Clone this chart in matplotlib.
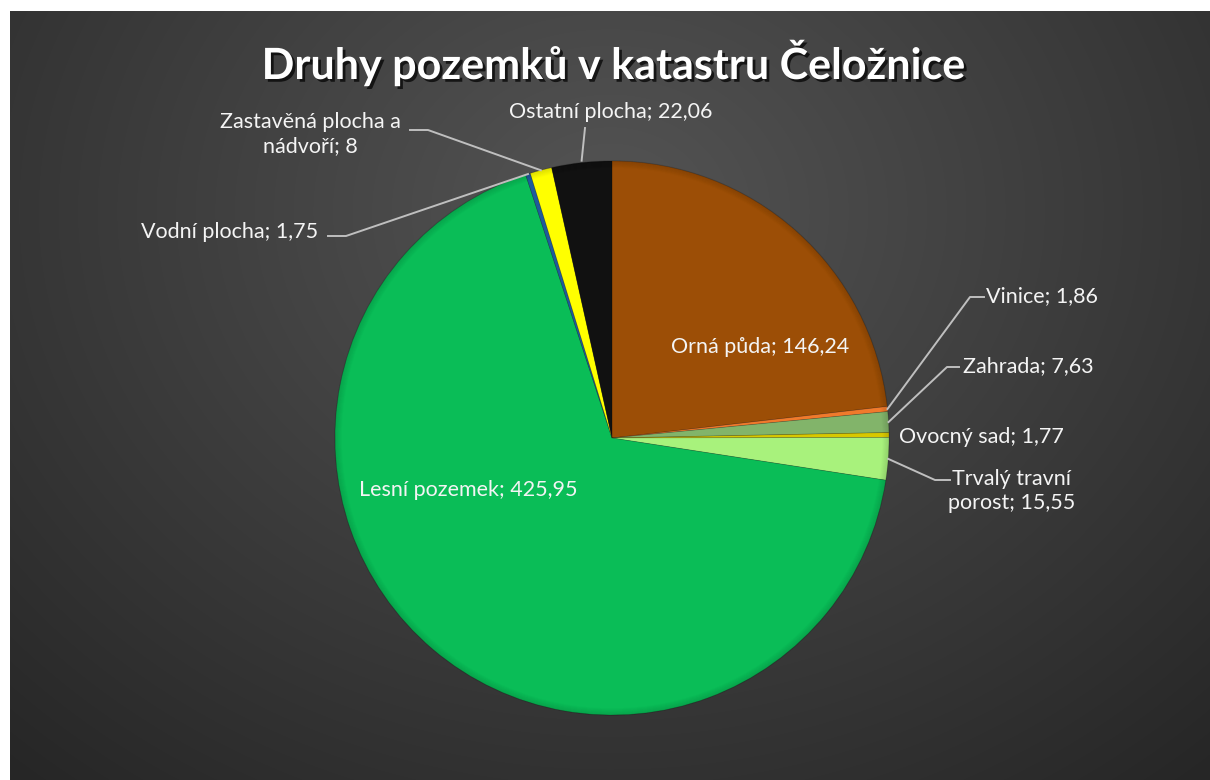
import numpy as np
import matplotlib.pyplot as plt
import matplotlib.patheffects as pe

# Data
kategorie = ['Orná půda', 'Vinice', 'Zahrada', 'Ovocný sad', 'Trvalý travní\nporost',
             'Lesní pozemek', 'Vodní plocha', 'Zastavěná plocha a\nnádvoří', 'Ostatní plocha']
hodnoty = [146.24, 1.86, 7.63, 1.77, 15.55, 425.95, 1.75, 8, 22.06]
barvy = ['#9C4E06', '#F07A2C', '#82B46A', '#D8C800', '#A8F27C',
         '#0ABD57', '#1F5A9C', '#FFFF00', '#111111']


def fmt(v):
    s = ('%.2f' % v).rstrip('0').rstrip('.')
    return s.replace('.', ',')


plt.rcParams['font.family'] = ['Lato', 'DejaVu Sans']

W, H = 1210, 780
fig = plt.figure(figsize=(W / 100, H / 100), dpi=100)
fig.patch.set_facecolor('white')

# pozadí s radiálním přechodem
bg = fig.add_axes([10 / W, 0, 1200 / W, 769 / H])
yy, xx = np.mgrid[0:769, 0:1200]
d = np.sqrt((xx - 600) ** 2 + ((yy - 200) * 1.2) ** 2) / 850
g = np.clip(0.33 - 0.17 * d, 0.15, 0.4)
bg.imshow(np.dstack([g, g, g]), aspect='auto', extent=[0, 1, 0, 1])
bg.axis('off')

ax = fig.add_axes([0, 0, 1, 1])
ax.set_xlim(0, W)
ax.set_ylim(0, H)
ax.axis('off')

cx, cy, r = 612, H - 438, 277
wedges, _ = ax.pie(hodnoty, colors=barvy, startangle=90, counterclock=False,
                   center=(cx, cy), radius=r, frame=True,
                   wedgeprops=dict(linewidth=0.5, edgecolor=(0, 0, 0, 0.2)))
ax.set_xlim(0, W)
ax.set_ylim(0, H)
ax.set_aspect('auto')

# jemný okraj (plastický efekt)
for i in range(7):
    circ = plt.Circle((cx, cy), r - i, fill=False, lw=1.2,
                      color=(0, 0, 0, 0.08 * (1 - i / 7)))
    ax.add_patch(circ)


def okraj(i, k=1.0):
    w = wedges[i]
    a = np.deg2rad((w.theta1 + w.theta2) / 2)
    return cx + r * k * np.cos(a), cy + r * k * np.sin(a)


popisky = [f'{k}; {fmt(v)}' for k, v in zip(kategorie, hodnoty)]
fs = 15.5
bila = '#F4F4F4'

# vnitřní popisky
ax.text(760, H - 347, popisky[0], color=bila, fontsize=fs, ha='center', va='center')
ax.text(468, H - 490, popisky[5], color=bila, fontsize=fs, ha='center', va='center')

car = dict(color='#BFBFBF', lw=1.4)

# Ostatní plocha
ax.text(611, H - 112, popisky[8], color=bila, fontsize=fs, ha='center', va='center')
px, py = okraj(8, 1.0)
ax.plot([585, px], [H - 128, py + 2], **car)

# Zastavěná plocha
ax.text(310, H - 134, popisky[7], color=bila, fontsize=fs, ha='center', va='center',
        linespacing=1.3)
px, py = okraj(7, 1.0)
ax.plot([410, 428, px], [H - 130, H - 130, py], **car)

# Vodní plocha
ax.text(230, H - 232, popisky[6], color=bila, fontsize=fs, ha='center', va='center')
px, py = okraj(6, 1.0)
ax.plot([328, 346, px], [H - 236, H - 236, py], **car)

# Vinice
ax.text(1042, H - 296, popisky[1], color=bila, fontsize=fs, ha='center', va='center')
px, py = okraj(1, 1.0)
ax.plot([984, 970, px], [H - 297, H - 297, py], **car)

# Zahrada
ax.text(1028, H - 366, popisky[2], color=bila, fontsize=fs, ha='center', va='center')
px, py = okraj(2, 1.0)
ax.plot([959, 947, px], [H - 367, H - 367, py], **car)

# Ovocný sad
ax.text(981, H - 437, popisky[3], color=bila, fontsize=fs, ha='center', va='center')

# Trvalý travní porost
ax.text(1012, H - 491, popisky[4], color=bila, fontsize=fs, ha='center', va='center',
        linespacing=1.25)
px, py = okraj(4, 1.0)
ax.plot([950, 935, px], [H - 480, H - 480, py], **car)

# Titulek
ax.text(613, H - 62, 'Druhy pozemků v katastru Čeložnice', color='white',
        fontsize=31, fontweight='bold', ha='center', va='center',
        path_effects=[pe.withSimplePatchShadow(offset=(2, -2), shadow_rgbFace='black', alpha=0.7)])

fig.savefig('out.png', dpi=100)
